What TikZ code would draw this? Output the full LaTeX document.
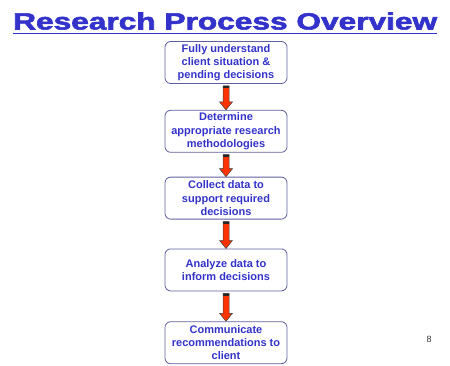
\documentclass[tikz,border=0pt]{standalone}
\usepackage{fontspec}
\setmainfont{Liberation Sans}
\newfontfamily\titlefont[FakeBold=2.2]{Liberation Sans Bold}
\usepackage{tikz}
\usetikzlibrary{positioning,calc}
\usepackage{xcolor}
\definecolor{TitleBlue}{RGB}{51,51,204}
\definecolor{BoxEdge}{RGB}{96,96,160}
\definecolor{ArrowRed}{RGB}{255,51,0}
\tikzset{
  stepbox/.style={draw=BoxEdge,line width=0.8pt,rounded corners=2mm,fill=white,
    minimum width=122pt,minimum height=42pt,inner sep=0pt,align=center,
    font=\fontsize{11}{13.3}\selectfont\bfseries,text=TitleBlue},
  blockarrow/.style={draw=black!75,line width=0.5pt,fill=ArrowRed,
    path picture={\fill[black!85] (path picture bounding box.north west)
      rectangle ([yshift=-4.5pt]path picture bounding box.north east);},
    to path={let \p1=(\tikztostart), \p2=(\tikztotarget) in
      (\x1-3pt,\y1-2pt) -- (\x1+3pt,\y1-2pt) -- (\x1+3pt,\y2+8pt)
      -- (\x1+6.5pt,\y2+8pt) -- (\x2,\y2) -- (\x1-6.5pt,\y2+8pt)
      -- (\x1-3pt,\y2+8pt) -- cycle}},
}

\begin{document}
\begin{tikzpicture}[x=1pt,y=-1pt]
  \useasboundingbox (0,0) rectangle (450,365);
  \node[anchor=base west,inner sep=0pt,text=TitleBlue] (title) at (13,29.5)
    {\resizebox{424pt}{17pt}{\titlefont Research Process Overview}};
  \draw[TitleBlue,line width=1.3pt] ([yshift=-4pt]title.base west) -- ([yshift=-4pt]title.base east);
  \node[stepbox] (understand) at (226,62.5) {Fully understand\\client situation \&\\pending decisions};
  \node[stepbox,below=26pt of understand] (method) {Determine\\appropriate research\\methodologies};
  \node[stepbox,below=24pt of method] (collect) {Collect data to\\support required\\decisions};
  \node[stepbox,below=29pt of collect] (analyze) {Analyze data to\\inform decisions};
  \node[stepbox,below=30pt of analyze] (report) {Communicate\\recommendations to\\client};
  \node[font=\fontsize{9}{10}\selectfont,text=black!80] (page) at (429,339) {8};
  \path[blockarrow] (understand.south) to (method.north);
  \path[blockarrow] (method.south) to (collect.north);
  \path[blockarrow] (collect.south) to (analyze.north);
  \path[blockarrow] (analyze.south) to (report.north);
\end{tikzpicture}
\end{document}
